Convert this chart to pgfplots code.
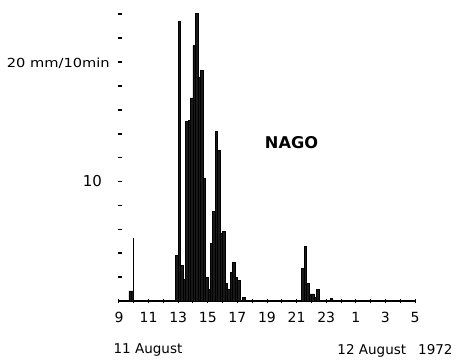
\documentclass[border=0pt]{standalone}
\usepackage{fontspec}
\setmainfont{DejaVu Sans}
\usepackage{pgfplots}
\pgfplotsset{compat=1.18}
\begin{document}
\begin{tikzpicture}
\begin{axis}[
  scale only axis, width=296pt, height=301pt,
  xmin=9, xmax=29, ymin=0, ymax=25.19,
  clip=false,
  axis x line=bottom, axis y line=left,
  axis line style={-},
  x axis line style={-, line width=1.1pt, black},
  y axis line style={draw=none},
  xtick={9,10,...,29},
  xticklabels={9,,11,,13,,15,,17,,19,,21,,23,,1,,3,,5},
  ytick={2,4,...,24}, yticklabels={},
  tick align=center,
  major tick length=4pt,
  x tick style={line width=1pt, black},
  y tick style={line width=1.6pt, black, xshift=1.5pt},
  /pgf/number format/assume math mode=true,
  xticklabel style={font=\fontsize{14}{16}\selectfont, yshift=-6pt},
]
% bounding frame matching the reference proportions
\path (axis cs:0.96,-5.02) rectangle (axis cs:32.04,25.19);

% early shower
\addplot[ybar interval, fill=black!90, draw=black, line width=0.6pt] coordinates {
(9.6667,0.85) (9.8333,0.85) (10.0,0)};
\addplot[ycomb, black, line width=1pt, mark=none] coordinates {(9.95,5.3)};

% main storm
\addplot[ybar interval, fill=black!90, draw=black, line width=0.6pt] coordinates {
(12.8333,3.85) (13.0,23.4) (13.1667,3.0) (13.3333,1.8) (13.5,15.0)
(13.6667,15.1) (13.8333,17.0) (14.0,21.4) (14.1667,24.1) (14.3333,18.7)
(14.5,19.3) (14.6667,10.3) (14.8333,2.0) (15.0,1.0) (15.1667,4.8)
(15.3333,7.5) (15.5,14.2) (15.6667,12.6) (15.8333,5.7) (16.0,5.8)
(16.1667,1.5) (16.3333,1.0) (16.5,2.4) (16.6667,3.2) (16.8333,2.0)
(17.0,1.75) (17.1667,0) (17.3333,0.3) (17.5,0)};

% evening shower
\addplot[ybar interval, fill=black!90, draw=black, line width=0.6pt] coordinates {
(21.3333,2.7) (21.5,4.6) (21.6667,1.5) (21.8333,0.6) (22.0,0.6)
(22.1667,0.3) (22.3333,1.0) (22.5,0)};
\addplot[ybar interval, fill=black!90, draw=black, line width=0.6pt] coordinates {
(23.25,0.2) (23.4167,0)};

\node[font=\fontsize{12.5}{14}\selectfont, xscale=1.17] at (axis cs:4.90,19.87) {20 mm/10min};
\node[font=\fontsize{15}{17}\selectfont] at (axis cs:7.21,10.04) {10};
\node[font=\bfseries\fontsize{16.2}{19}\selectfont] at (axis cs:20.66,13.26) {NAGO};
\node[font=\fontsize{13.5}{15}\selectfont] at (axis cs:10.96,-4.06) {11 August};
\node[font=\fontsize{13.5}{15}\selectfont] at (axis cs:27.65,-4.18) {12 August\hspace{12pt}1972};
\end{axis}
\end{tikzpicture}
\end{document}
